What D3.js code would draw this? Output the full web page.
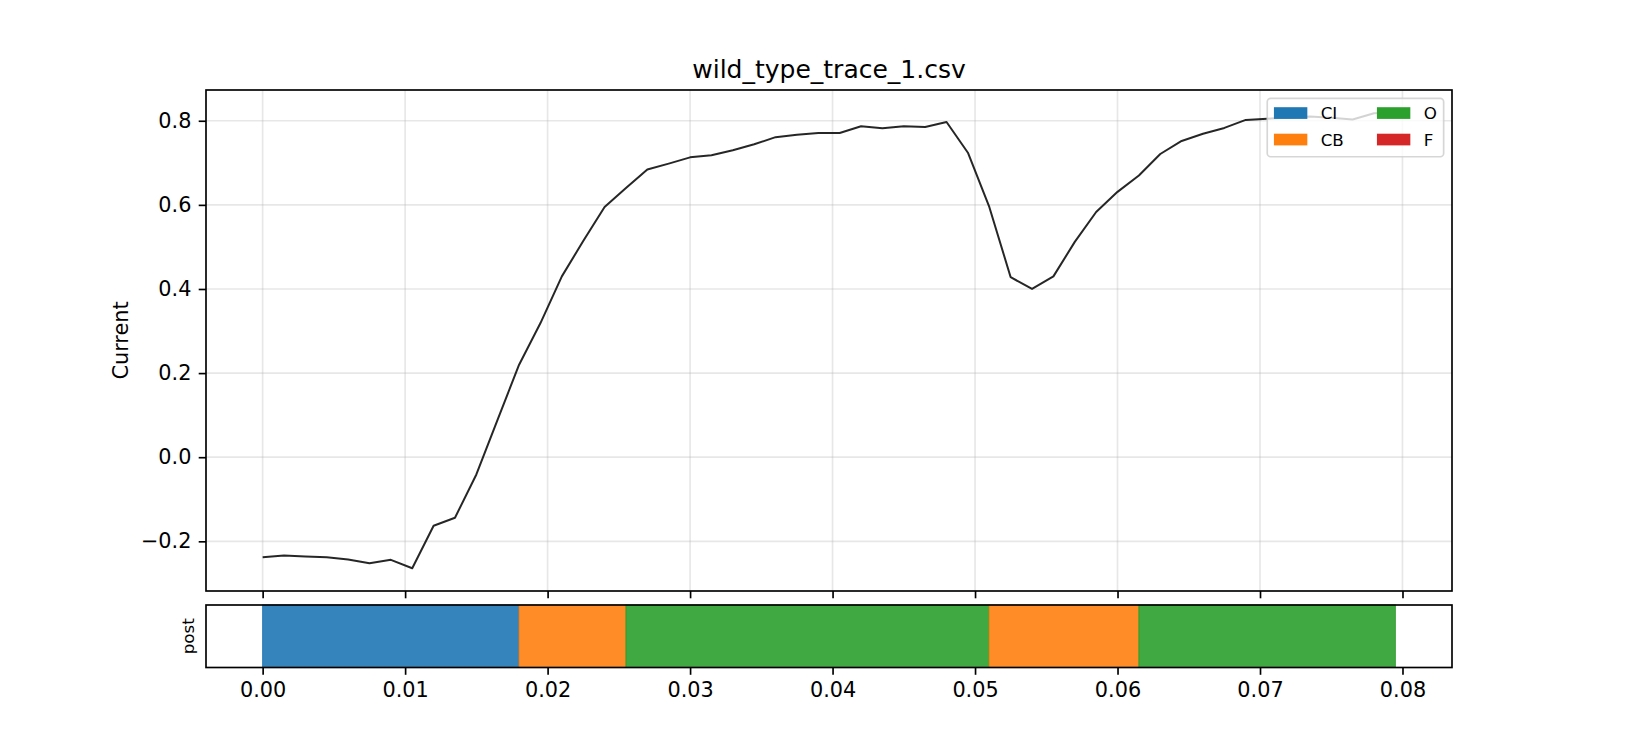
<!DOCTYPE html>
<html>
<head>
<meta charset="utf-8">
<script src="https://cdn.jsdelivr.net/npm/d3@7"></script>
<style>
  html, body { margin: 0; padding: 0; background: #fff; }
  svg { display: block; font-family: "DejaVu Sans", sans-serif; }
</style>
</head>
<body>
<svg id="chart" width="1650" height="750"></svg>
<script>
// ---------------- data ----------------
const title = "wild_type_trace_1.csv";
const yLabel = "Current";
const stateLabel = "post";
const times = [0.0000, 0.0015, 0.0030, 0.0045, 0.0060, 0.0075, 0.0090, 0.0105, 0.0120, 0.0135,
               0.0150, 0.0165, 0.0180, 0.0195, 0.0210, 0.0225, 0.0240, 0.0255, 0.0270, 0.0285,
               0.0300, 0.0315, 0.0330, 0.0345, 0.0360, 0.0375, 0.0390, 0.0405, 0.0420, 0.0435,
               0.0450, 0.0465, 0.0480, 0.0495, 0.0510, 0.0525, 0.0540, 0.0555, 0.0570, 0.0585,
               0.0600, 0.0615, 0.0630, 0.0645, 0.0660, 0.0675, 0.0690, 0.0705, 0.0720, 0.0735,
               0.0750, 0.0765, 0.0780, 0.0795];
const current = [-0.238, -0.234, -0.236, -0.238, -0.243, -0.252, -0.244, -0.264, -0.163, -0.144,
                 -0.041, 0.090, 0.220, 0.319, 0.430, 0.514, 0.595, 0.640, 0.684, 0.698,
                 0.713, 0.718, 0.730, 0.744, 0.761, 0.767, 0.771, 0.771, 0.787, 0.782,
                 0.787, 0.785, 0.797, 0.724, 0.595, 0.428, 0.400, 0.430, 0.512, 0.583,
                 0.631, 0.670, 0.721, 0.752, 0.769, 0.783, 0.802, 0.805, 0.807, 0.810,
                 0.807, 0.803, 0.818, 0.819];
const segStart = [0.0000, 0.0180, 0.0255, 0.0510, 0.0615];
const segEnd   = [0.0180, 0.0255, 0.0510, 0.0615, 0.0795];
const segState = ["CI", "CB", "O", "CB", "O"];
const stateNames = ["CI", "CB", "O", "F"];
const stateColors = ["#1f77b4", "#ff7f0e", "#2ca02c", "#d62728"];
const xTicks = [0.00, 0.01, 0.02, 0.03, 0.04, 0.05, 0.06, 0.07, 0.08];
const yTicks = [-0.2, 0.0, 0.2, 0.4, 0.6, 0.8];

// ---------------- layout ----------------
const svg = d3.select("#chart");
const L = 206, R = 1452;
const mainTop = 90, mainBot = 591;
const lowTop = 605, lowBot = 667.5;
const tickLen = 7.3, tickPad = 7.3, fs = 20.8, smallFs = 16.7;

const xMin = d3.min(times), xMax = d3.max(times);
const xm = (xMax - xMin) * 0.05;
const x = d3.scaleLinear().domain([xMin - xm, xMax + xm]).range([L, R]);
const yMin = d3.min(current), yMax = d3.max(current);
const ym = (yMax - yMin) * 0.05;
const y = d3.scaleLinear().domain([yMin - ym, yMax + ym]).range([mainBot, mainTop]);

const color = d3.scaleOrdinal().domain(stateNames).range(stateColors);
const minusFmt = f => v => d3.format(f)(v).replace("-", "\u2212");

// ---------------- main axes ----------------
const main = svg.append("g");
// grid
main.append("g").selectAll("line").data(xTicks).join("line")
  .attr("x1", d => x(d)).attr("x2", d => x(d))
  .attr("y1", mainTop).attr("y2", mainBot)
  .attr("stroke", "#b0b0b0").attr("stroke-opacity", 0.3).attr("stroke-width", 1.67);
main.append("g").selectAll("line").data(yTicks).join("line")
  .attr("x1", L).attr("x2", R)
  .attr("y1", d => y(d)).attr("y2", d => y(d))
  .attr("stroke", "#b0b0b0").attr("stroke-opacity", 0.3).attr("stroke-width", 1.67);

// trace
const line = d3.line().x((d, i) => x(times[i])).y(d => y(d));
main.append("path").datum(current)
  .attr("d", line)
  .attr("fill", "none")
  .attr("stroke", "#000").attr("stroke-opacity", 0.85)
  .attr("stroke-width", 2.0).attr("stroke-linejoin", "round");

// axes
const yAxis = main.append("g").attr("transform", `translate(${L},0)`)
  .call(d3.axisLeft(y).tickValues(yTicks).tickSize(tickLen).tickPadding(tickPad).tickFormat(minusFmt(".1f")));
const xAxisTop = main.append("g").attr("transform", `translate(0,${mainBot})`)
  .call(d3.axisBottom(x).tickValues(xTicks).tickSize(tickLen).tickFormat(""));
[yAxis, xAxisTop].forEach(g => {
  g.select(".domain").remove();
  g.selectAll(".tick line").attr("stroke", "#000").attr("stroke-width", 1.67);
  g.selectAll(".tick text").attr("font-size", fs).attr("font-family", "DejaVu Sans").attr("fill", "#000");
});

main.append("rect").attr("x", L).attr("y", mainTop).attr("width", R - L).attr("height", mainBot - mainTop)
  .attr("fill", "none").attr("stroke", "#000").attr("stroke-width", 1.67);

// title
svg.append("text").attr("x", (L + R) / 2).attr("y", 77.5)
  .attr("text-anchor", "middle").attr("font-size", 25).attr("fill", "#000").text(title);
// y label
svg.append("text")
  .attr("transform", `translate(128,${(mainTop + mainBot) / 2}) rotate(-90)`)
  .attr("text-anchor", "middle").attr("font-size", fs).attr("fill", "#000").text(yLabel);

// legend
const F = smallFs;
const leg = svg.append("g");
const legW = 176.4, legH = 58.4;
const legX = R - 0.5 * F - legW, legY = mainTop + 0.5 * F;
leg.append("rect").attr("x", legX).attr("y", legY).attr("width", legW).attr("height", legH)
  .attr("rx", 3.5).attr("fill", "#fff").attr("fill-opacity", 0.8)
  .attr("stroke", "#cccccc").attr("stroke-opacity", 0.8).attr("stroke-width", 1.67);
const colX = [legX + 0.4 * F, legX + 0.4 * F + 103];
const rowC = [legY + 14.7, legY + 41.2];
stateNames.forEach((s, i) => {
  const c = Math.floor(i / 2), r = i % 2;
  leg.append("rect").attr("x", colX[c]).attr("y", rowC[r] - 0.35 * F)
    .attr("width", 2 * F).attr("height", 0.7 * F).attr("fill", color(s));
  leg.append("text").attr("x", colX[c] + 2.8 * F).attr("y", rowC[r] + 6)
    .attr("font-size", F).attr("fill", "#000").text(s);
});

// ---------------- lower (state) axes ----------------
const low = svg.append("g");
low.selectAll("rect.seg").data(segState).join("rect").attr("class", "seg")
  .attr("x", (d, i) => x(segStart[i]))
  .attr("width", (d, i) => x(segEnd[i]) - x(segStart[i]))
  .attr("y", lowTop).attr("height", lowBot - lowTop)
  .attr("fill", d => color(d)).attr("fill-opacity", 0.9)
  .attr("stroke", d => color(d)).attr("stroke-opacity", 0.9).attr("stroke-width", 1);

const xAxis = low.append("g").attr("transform", `translate(0,${lowBot})`)
  .call(d3.axisBottom(x).tickValues(xTicks).tickSize(tickLen).tickPadding(tickPad).tickFormat(minusFmt(".2f")));
xAxis.select(".domain").remove();
xAxis.selectAll(".tick line").attr("stroke", "#000").attr("stroke-width", 1.67);
xAxis.selectAll(".tick text").attr("font-size", fs).attr("font-family", "DejaVu Sans").attr("fill", "#000");

low.append("rect").attr("x", L).attr("y", lowTop).attr("width", R - L).attr("height", lowBot - lowTop)
  .attr("fill", "none").attr("stroke", "#000").attr("stroke-width", 1.67);

svg.append("text")
  .attr("transform", `translate(194,${(lowTop + lowBot) / 2}) rotate(-90)`)
  .attr("text-anchor", "middle").attr("font-size", smallFs).attr("fill", "#000").text(stateLabel);
</script>
</body>
</html>
